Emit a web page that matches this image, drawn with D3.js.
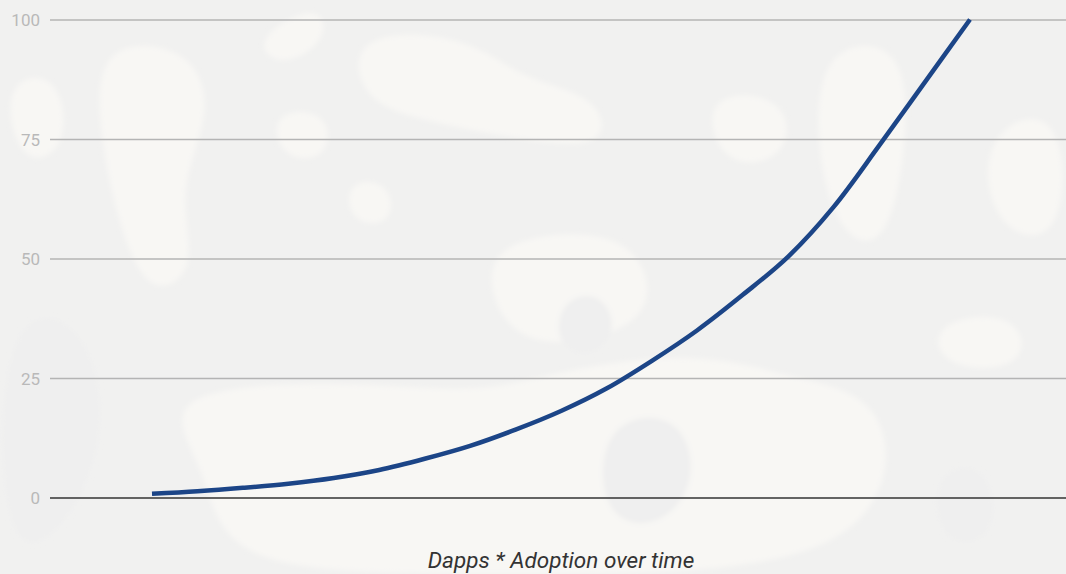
<!DOCTYPE html>
<html>
<head>
<meta charset="utf-8">
<script src="https://cdn.jsdelivr.net/npm/d3@7/dist/d3.min.js"></script>
<style>
  html, body { margin: 0; padding: 0; background: #f2f2f1; }
  svg { display: block; }
</style>
</head>
<body>
<svg id="chart" width="1066" height="574"></svg>
<script>
// Adoption index over evenly spaced time steps
const periods = [0, 1, 2, 3, 4, 5, 6, 7, 8, 9, 10, 11, 12, 13, 14, 15, 16, 17, 18];
const adoption = [0.77, 1.3, 2.02, 2.89, 4.08, 5.76, 8.1, 10.8, 14.2, 18.1, 22.8,
                  28.6, 35.0, 42.4, 50.4, 60.8, 73.6, 86.8, 100];
const yTicks = [0, 25, 50, 75, 100];
const axisTitle = "Dapps * Adoption over time";

const width = 1066, height = 574;
const margin = { left: 50, right: 0, top: 19.5, bottom: 76.5 };

const svg = d3.select("#chart");

// Soft camouflage backdrop
const defs = svg.append("defs");
defs.append("filter").attr("id", "soften")
  .attr("x", "-10%").attr("y", "-10%").attr("width", "120%").attr("height", "120%")
  .append("feGaussianBlur").attr("stdDeviation", 2.5);
const bg = svg.append("g");
bg.append("rect").attr("width", width).attr("height", height).attr("fill", "#f1f1f0");
const blobs = bg.append("g").attr("filter", "url(#soften)");
const blob = d3.line().curve(d3.curveBasisClosed);
const creamBlobs = [
  [[95,40],[190,45],[215,110],[175,190],[200,270],[150,300],[120,230],[100,140]],
  [[350,30],[470,35],[520,80],[600,95],[610,150],[520,140],[420,120],[360,100]],
  [[700,90],[790,95],[790,160],[720,170]],
  [[820,45],[900,40],[910,120],[890,250],[840,240],[815,150]],
  [[270,110],[330,110],[330,160],[280,160]],
  [[345,180],[390,180],[395,225],[350,225]],
  [[150,390],[350,380],[480,395],[560,370],[700,350],[800,380],[900,400],[880,574],[500,574],[220,574],[210,470]],
  [[480,250],[560,230],[640,240],[660,320],[560,350],[500,330]],
  [[930,320],[1020,310],[1030,370],[940,370]],
  [[980,130],[1066,100],[1066,250],[990,230]],
  [[0,80],[60,70],[70,150],[20,170]],
  [[250,40],[320,0],[330,40],[280,70]]
];
const greyBlobs = [
  [[560,300],[600,290],[620,330],[590,360],[555,345]],
  [[600,420],[680,410],[700,480],[660,530],[600,520]],
  [[0,300],[90,320],[110,440],[60,540],[0,560]],
  [[930,470],[990,460],[1000,540],[940,550]]
];
creamBlobs.forEach(p => blobs.append("path").attr("d", blob(p)).attr("fill", "#f8f7f4"));
greyBlobs.forEach(p => blobs.append("path").attr("d", blob(p)).attr("fill", "#efefef"));

const x = d3.scaleLinear()
  .domain([d3.min(periods), d3.max(periods)])
  .range([152, 970]);
const y = d3.scaleLinear()
  .domain([0, 100])
  .range([height - margin.bottom, margin.top]);

// Horizontal gridlines with value labels on the left
const grid = svg.append("g")
  .attr("transform", `translate(${margin.left},0)`)
  .call(d3.axisLeft(y).tickValues(yTicks).tickSize(-(width - margin.left)).tickFormat(d3.format("d")));
grid.select(".domain").remove();
grid.selectAll(".tick line")
  .attr("stroke", d => d === 0 ? "#333333" : "#b4b4b4")
  .attr("stroke-width", d => d === 0 ? 1.6 : 1.4);
grid.selectAll(".tick text")
  .attr("x", -10)
  .attr("dy", "0.36em")
  .attr("fill", "#b9b9b9")
  .style("font-family", "Roboto, sans-serif")
  .style("font-size", "17px");

// Adoption curve
const line = d3.line()
  .x((d, i) => x(periods[i]))
  .y(d => y(d))
  .curve(d3.curveCatmullRom.alpha(0.5));
svg.append("path")
  .datum(adoption)
  .attr("d", line)
  .attr("fill", "none")
  .attr("stroke", "#1c4587")
  .attr("stroke-width", 4.5)
  .attr("stroke-linejoin", "round");

// Axis title
svg.append("text")
  .attr("x", 561)
  .attr("y", 568)
  .attr("text-anchor", "middle")
  .attr("fill", "#333333")
  .style("font-family", "Roboto, sans-serif")
  .style("font-style", "italic")
  .style("font-size", "22.5px")
  .text(axisTitle);
</script>
</body>
</html>
